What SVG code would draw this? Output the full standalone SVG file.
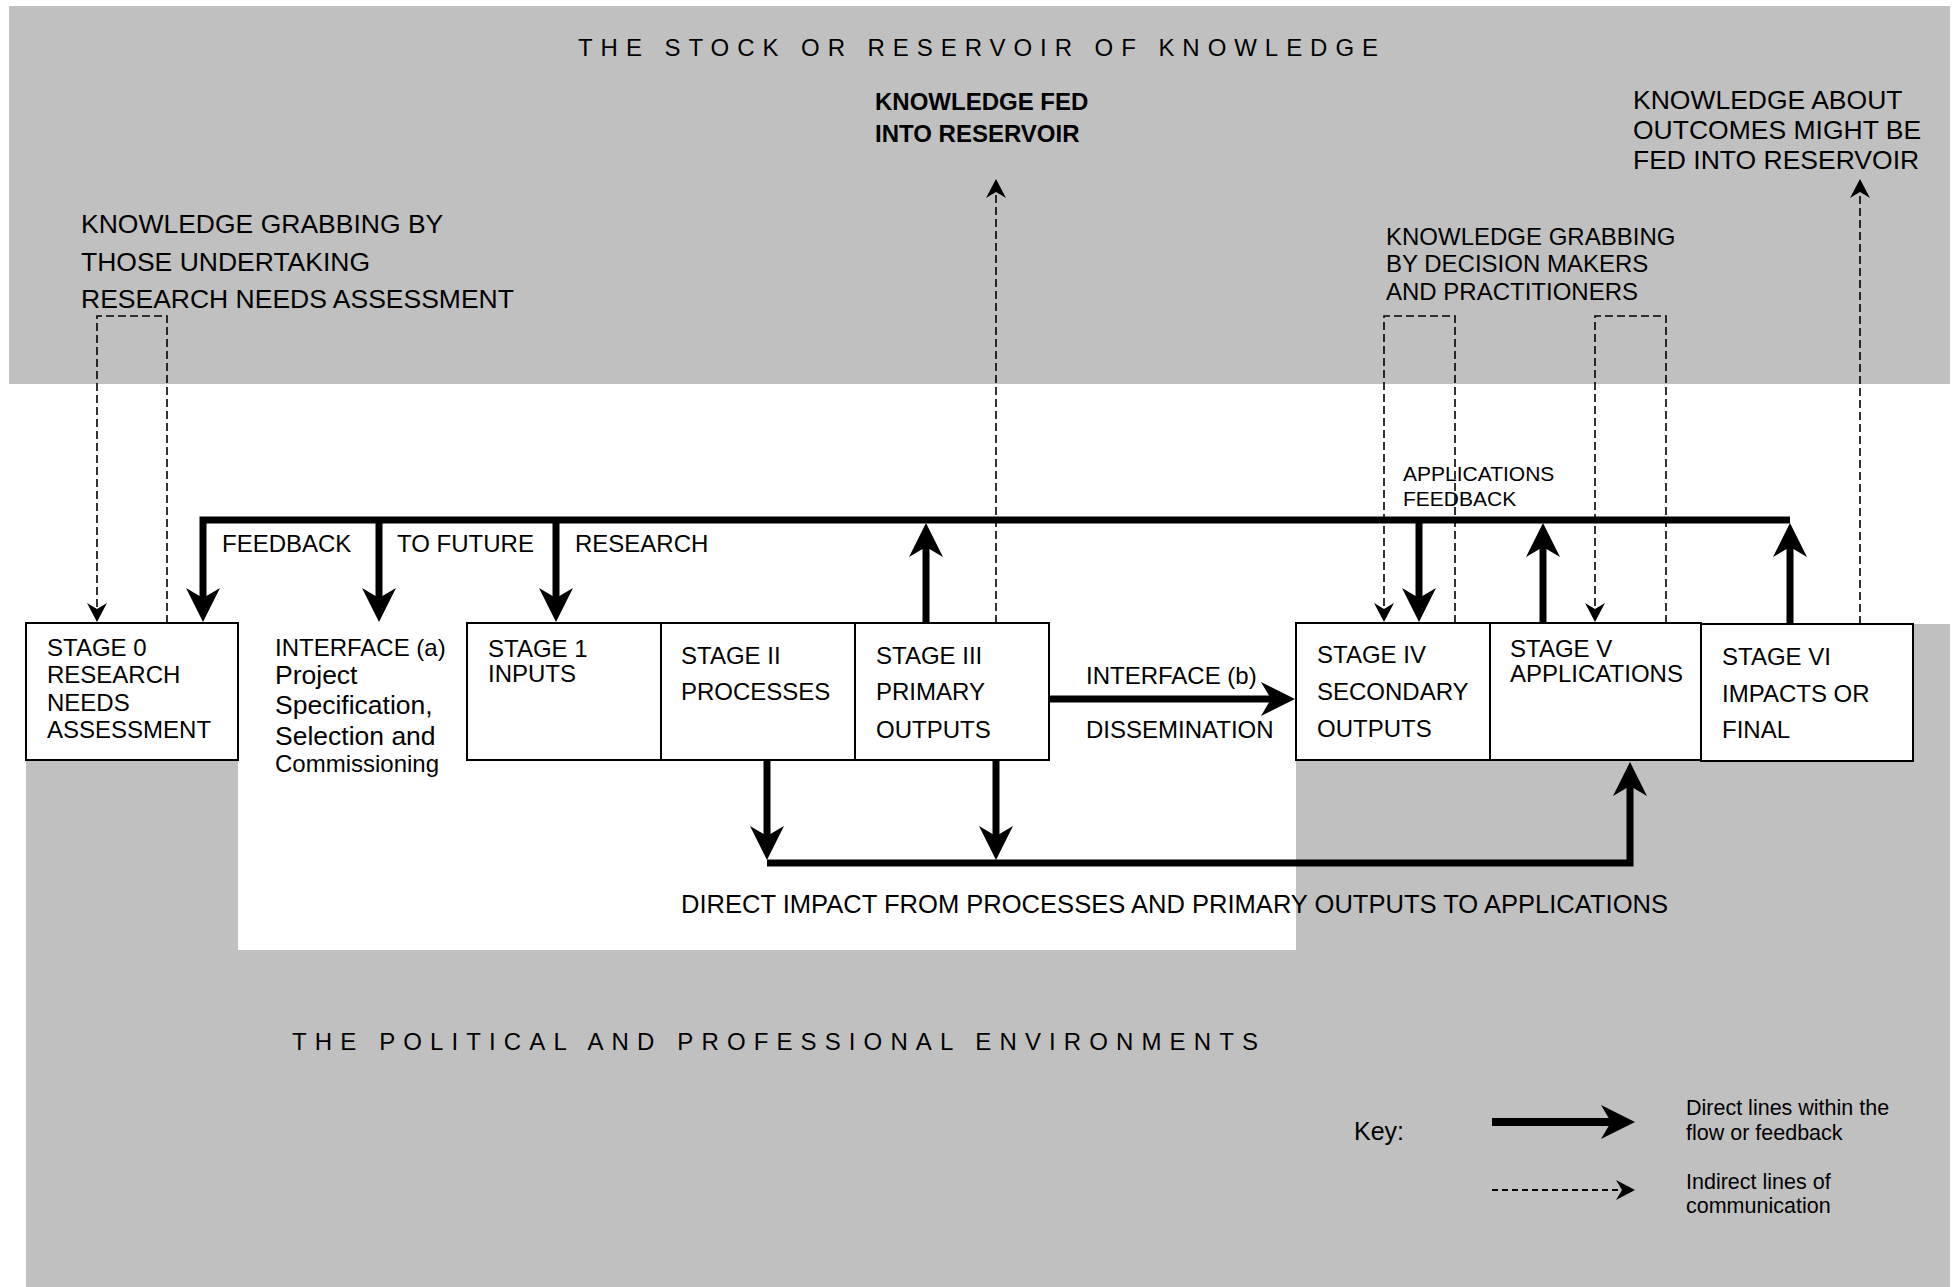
<svg xmlns="http://www.w3.org/2000/svg" width="1959" height="1287" viewBox="0 0 1959 1287">
<defs>
<style>
text{font-family:"Liberation Sans",Arial,Helvetica,sans-serif;fill:#000}
.t24{font-size:24px}
.t26{font-size:26.5px}
.t21{font-size:21px}
.bold{font-weight:bold}
.box{fill:#fff;stroke:#000;stroke-width:2}
.thick{fill:none;stroke:#000;stroke-width:7;stroke-linejoin:miter}
.dash{fill:none;stroke:#000;stroke-width:1.6;stroke-dasharray:8 4}
</style>
<marker id="big" markerUnits="userSpaceOnUse" markerWidth="40" markerHeight="40" refX="12" refY="17" orient="auto" overflow="visible">
<path d="M34,17 L0,0 L10,17 L0,34 Z" fill="#000"/>
</marker>
<marker id="small" markerUnits="userSpaceOnUse" markerWidth="24" markerHeight="24" refX="9" refY="10" orient="auto" overflow="visible">
<path d="M19,10 L0,0 L6,10 L0,20 Z" fill="#000"/>
</marker>
</defs>
<rect width="1959" height="1287" fill="#fff"/>
<g id="reservoir">
<rect x="9" y="6" width="1941" height="378" fill="#c0c0c0"/>
<text class="t24" x="578" y="56" textLength="800" lengthAdjust="spacing">THE STOCK OR RESERVOIR OF KNOWLEDGE</text>
</g>
<g id="environments">
<path d="M26,623 H238 V950 H1296 V624 H1950 V1287 H26 Z" fill="#c0c0c0"/>
<text class="t24" x="292" y="1050" textLength="966" lengthAdjust="spacing">THE POLITICAL AND PROFESSIONAL ENVIRONMENTS</text>
</g>
<g id="label-knowledge-fed">
<text class="t24 bold" x="875" y="110">KNOWLEDGE FED</text>
<text class="t24 bold" x="875" y="142">INTO RESERVOIR</text>
</g>
<g id="label-knowledge-about">
<text class="t26" x="1633" y="109">KNOWLEDGE ABOUT</text>
<text class="t26" x="1633" y="139">OUTCOMES MIGHT BE</text>
<text class="t26" x="1633" y="169">FED INTO RESERVOIR</text>
</g>
<g id="label-grabbing-research">
<text class="t26" x="81" y="233">KNOWLEDGE GRABBING BY</text>
<text class="t26" x="81" y="271">THOSE UNDERTAKING</text>
<text class="t26" x="81" y="308">RESEARCH NEEDS ASSESSMENT</text>
</g>
<g id="label-grabbing-decision">
<text class="t24" x="1386" y="245">KNOWLEDGE GRABBING</text>
<text class="t24" x="1386" y="272">BY DECISION MAKERS</text>
<text class="t24" x="1386" y="300">AND PRACTITIONERS</text>
</g>
<g id="connectors">
<path class="dash" d="M167,623 V316 H97 V612" marker-end="url(#small)"/>
<path class="dash" d="M1455,623 V316 H1384 V612" marker-end="url(#small)"/>
<path class="dash" d="M1666,623 V316 H1595 V612" marker-end="url(#small)"/>
<path class="dash" d="M996,623 V189" marker-end="url(#small)"/>
<path class="dash" d="M1860,624 V189" marker-end="url(#small)"/>
<path class="thick" d="M1790,520 H203 V600" marker-end="url(#big)"/>
<path class="thick" d="M379,520 V600" marker-end="url(#big)"/>
<path class="thick" d="M556,520 V600" marker-end="url(#big)"/>
<path class="thick" d="M1419,520 V600" marker-end="url(#big)"/>
<path class="thick" d="M926,623 V545" marker-end="url(#big)"/>
<path class="thick" d="M1543,623 V545" marker-end="url(#big)"/>
<path class="thick" d="M1790,624 V545" marker-end="url(#big)"/>
<path class="thick" d="M1049,699 H1273" marker-end="url(#big)"/>
<path class="thick" d="M767,760 V838" marker-end="url(#big)"/>
<path class="thick" d="M996,760 V838" marker-end="url(#big)"/>
<path class="thick" d="M767,863 H1630 V784" marker-end="url(#big)"/>
</g>
<g id="label-feedback">
<text class="t24" x="222" y="552">FEEDBACK</text>
<text class="t24" x="397" y="552">TO FUTURE</text>
<text class="t24" x="575" y="552">RESEARCH</text>
</g>
<g id="label-applications-feedback">
<text class="t21" x="1403" y="481">APPLICATIONS</text>
<text class="t21" x="1403" y="506">FEEDBACK</text>
</g>
<g id="stage0">
<rect class="box" x="26" y="623" width="212" height="137"/>
<text class="t24" x="47" y="656">STAGE 0</text>
<text class="t24" x="47" y="683">RESEARCH</text>
<text class="t24" x="47" y="711">NEEDS</text>
<text class="t24" x="47" y="738">ASSESSMENT</text>
</g>
<g id="interface-a">
<text class="t24" x="275" y="656">INTERFACE (a)</text>
<text class="t26" x="275" y="684">Project</text>
<text class="t26" x="275" y="714">Specification,</text>
<text class="t26" x="275" y="745">Selection and</text>
<text class="t24" x="275" y="772">Commissioning</text>
</g>
<g id="stage1">
<rect class="box" x="467" y="623" width="194" height="137"/>
<text class="t24" x="488" y="657">STAGE 1</text>
<text class="t24" x="488" y="682">INPUTS</text>
</g>
<g id="stage2">
<rect class="box" x="661" y="623" width="194" height="137"/>
<text class="t24" x="681" y="664">STAGE II</text>
<text class="t24" x="681" y="700">PROCESSES</text>
</g>
<g id="stage3">
<rect class="box" x="855" y="623" width="194" height="137"/>
<text class="t24" x="876" y="664">STAGE III</text>
<text class="t24" x="876" y="700">PRIMARY</text>
<text class="t24" x="876" y="738">OUTPUTS</text>
</g>
<g id="interface-b">
<text class="t24" x="1086" y="684">INTERFACE (b)</text>
<text class="t24" x="1086" y="738">DISSEMINATION</text>
</g>
<g id="stage4">
<rect class="box" x="1296" y="623" width="194" height="137"/>
<text class="t24" x="1317" y="663">STAGE IV</text>
<text class="t24" x="1317" y="700">SECONDARY</text>
<text class="t24" x="1317" y="737">OUTPUTS</text>
</g>
<g id="stage5">
<rect class="box" x="1490" y="623" width="211" height="137"/>
<text class="t24" x="1510" y="657">STAGE V</text>
<text class="t24" x="1510" y="682">APPLICATIONS</text>
</g>
<g id="stage6">
<rect class="box" x="1701" y="624" width="212" height="137"/>
<text class="t24" x="1722" y="665">STAGE VI</text>
<text class="t24" x="1722" y="702">IMPACTS OR</text>
<text class="t24" x="1722" y="738">FINAL</text>
</g>
<g id="label-direct-impact">
<text x="681" y="913" style="font-size:25.5px" textLength="987" lengthAdjust="spacingAndGlyphs">DIRECT IMPACT FROM PROCESSES AND PRIMARY OUTPUTS TO APPLICATIONS</text>
</g>
<g id="key">
<text x="1354" y="1140" style="font-size:25px">Key:</text>
<path d="M1492,1122 H1613" fill="none" stroke="#000" stroke-width="8" marker-end="url(#big)"/>
<path d="M1492,1190 H1625" fill="none" stroke="#000" stroke-width="1.8" stroke-dasharray="6 4" marker-end="url(#small)"/>
<text style="font-size:21.5px" x="1686" y="1115">Direct lines within the</text>
<text style="font-size:21.5px" x="1686" y="1140">flow or feedback</text>
<text style="font-size:21.5px" x="1686" y="1189">Indirect lines of</text>
<text style="font-size:21.5px" x="1686" y="1213">communication</text>
</g>
</svg>
